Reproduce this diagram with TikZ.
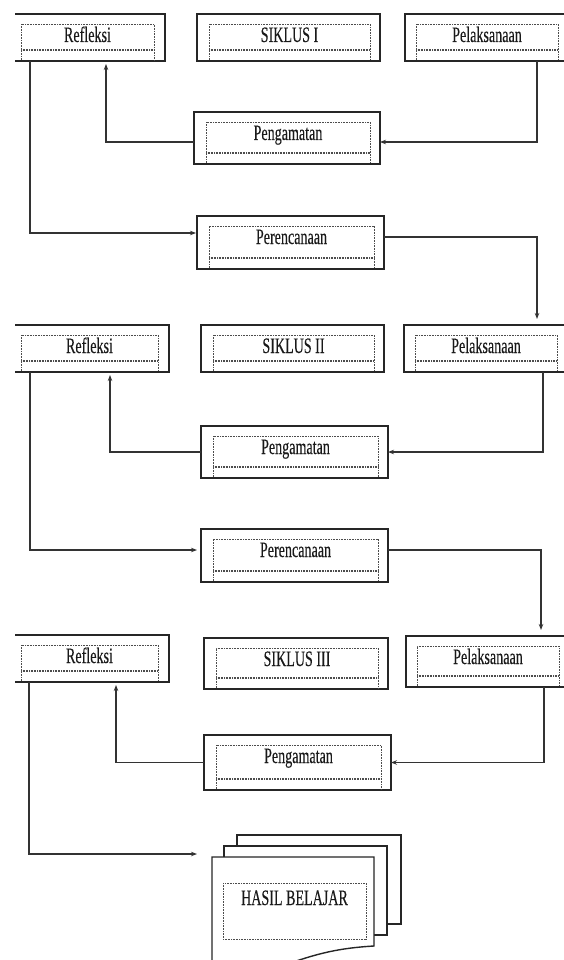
\documentclass[tikz,border=0pt]{standalone}
\usepackage{fontspec}
\setmainfont{Liberation Serif}
\newfontfamily\lblfont[FakeBold=0.25]{Liberation Serif}
\usepackage{graphicx}
\usetikzlibrary{arrows.meta,calc}

\newcommand{\lbltext}{\lblfont\fontsize{22}{22}\selectfont}
\newcommand{\sq}[1]{\scalebox{0.64}[1]{#1}}

\tikzset{
  boxnode/.style={inner sep=0pt, outer sep=0pt},
  boxline/.style={draw=black!85, line width=1.5pt},
  inframe/.style={draw=black!70, line width=0.7pt, dash pattern=on 0.8pt off 0.8pt},
  conn/.style={draw=black!80, line width=1.1pt},
  arr/.style={conn, -{Stealth[length=6pt,width=4.5pt]}},
  lbl/.style={inner sep=0pt, anchor=base, font=\lbltext, text=black!90},
  page/.style={draw=black!85, line width=1.4pt, fill=white},
}

% inner dotted frame: ix1, iy1, ix2, iy2, yend
\newcommand{\innerframe}[5]{%
  \draw[inframe] (#1,#5) -- (#1,#2) -- (#3,#2) -- (#3,#5);
  \draw[inframe] (#1,#4) -- (#3,#4);
  \draw[inframe] (#1,#4+1.3) -- (#3,#4+1.3);
}

% middle box: name x1 y1 x2 y2 text
\newcommand{\boxM}[6]{%
  \pgfmathsetmacro{\bw}{#4-#2}\pgfmathsetmacro{\bh}{#5-#3}
  \node[boxnode, boxline, draw, fill=white, minimum width=\bw pt, minimum height=\bh pt, anchor=north west] (#1) at (#2,#3) {};
  \innerframe{#2+12}{#3+10}{#4-10}{#5-12}{#5-1}
  \node[lbl] (#1-t) at ({(#2+#4)/2+1}, #3+28) {\sq{#6}};
}
% left box (no left border)
\newcommand{\boxL}[6]{%
  \pgfmathsetmacro{\bw}{#4-#2}\pgfmathsetmacro{\bh}{#5-#3}
  \node[boxnode, minimum width=\bw pt, minimum height=\bh pt, anchor=north west] (#1) at (#2,#3) {};
  \draw[boxline] (#1.north west) -- (#1.north east) -- (#1.south east) -- (#1.south west);
  \innerframe{#2+6}{#3+10}{#4-11}{#5-12}{#5-1}
  \node[lbl] (#1-t) at ({(#2+#4)/2-2.5}, #3+28) {\sq{#6}};
}
% right box (runs off the right edge)
\newcommand{\boxR}[6]{%
  \pgfmathsetmacro{\bw}{#4-#2}\pgfmathsetmacro{\bh}{#5-#3}
  \node[boxnode, boxline, draw, fill=white, minimum width=\bw pt, minimum height=\bh pt, anchor=north west] (#1) at (#2,#3) {};
  \innerframe{#2+11}{#3+10}{#2+153}{#5-12}{#5-1}
  \node[lbl] (#1-t) at ({#2+82}, #3+28) {\sq{#6}};
}

\begin{document}
\begin{tikzpicture}[x=1pt,y=-1pt]
\useasboundingbox (0,0) rectangle (564,960);
\clip (0,0) rectangle (564,960);

% ---- Siklus I ----
\boxL{R1}{15}{14}{165}{61}{Refleksi}
\boxM{S1}{197}{14}{380}{61}{SIKLUS I}
\boxR{P1}{405}{14}{574}{61}{Pelaksanaan}
\boxM{G1}{194}{112}{380}{164}{Pengamatan}
\boxM{E1}{197}{216}{384}{269}{Perencanaan}

% ---- Siklus II ----
\boxL{R2}{15}{325}{169}{372}{Refleksi}
\boxM{S2}{201}{325}{384}{372}{SIKLUS II}
\boxR{P2}{404}{325}{574}{372}{Pelaksanaan}
\boxM{G2}{201}{426}{388}{478}{Pengamatan}
\boxM{E2}{201}{529}{388}{582}{Perencanaan}

% ---- Siklus III ----
\boxL{R3}{15}{635}{169}{682}{Refleksi}
\boxM{S3}{204}{638}{388}{689}{SIKLUS III}
\boxR{P3}{406}{636}{574}{687}{Pelaksanaan}
\boxM{G3}{204}{735}{391}{790}{Pengamatan}

% ---- Hasil belajar (stack of pages) ----
\draw[page] (237,835) rectangle (401,924);
\draw[page] (224,846) rectangle (387,935);
\node[boxnode, minimum width=162pt, minimum height=89pt, anchor=north west] (H) at (212,857) {};
\draw[page] (212,985) -- (H.north west) -- (H.north east) -- (H.south east)
  .. controls (340,948) and (318,953) .. (285,965) -- (212,985);
\draw[inframe] (223,883) rectangle (366,939);
\node[lbl] (H-t) at (294.5,905) {\sq{HASIL BELAJAR}};

% ---- connectors, cycle I ----
\draw[arr] ([xshift=132pt]P1.south west) |- ([yshift=-4pt]G1.east);
\draw[arr] ([yshift=-4pt]G1.west) -| ([xshift=91pt,yshift=-3pt]R1.south west);
\draw[arr] ([xshift=15pt]R1.south west) |- ([xshift=-1pt,yshift=9.5pt]E1.west);
\draw[arr] ([yshift=5.5pt]E1.east) -| ([xshift=133pt,yshift=6pt]P2.north west);

% ---- connectors, cycle II ----
\draw[arr] ([xshift=139pt]P2.south west) |- (G2.east);
\draw[arr] (G2.west) -| ([xshift=95pt,yshift=-3pt]R2.south west);
\draw[arr] ([xshift=15pt]R2.south west) |- ([xshift=-4pt,yshift=5.5pt]E2.west);
\draw[arr] ([yshift=5.5pt]E2.east) -| ([xshift=135pt,yshift=6pt]P3.north west);

% ---- connectors, cycle III ----
\draw[arr] ([xshift=138pt]P3.south west) |- (G3.east);
\draw[arr] (G3.west) -| ([xshift=101pt,yshift=-3pt]R3.south west);
\draw[arr] ([xshift=14pt]R3.south west) |- ([xshift=-15pt,yshift=3pt]H.north west);
\end{tikzpicture}
\end{document}
